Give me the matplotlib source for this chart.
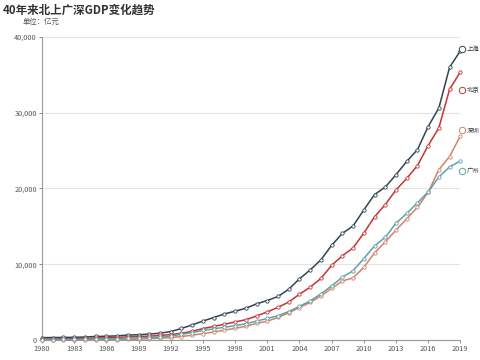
import matplotlib
matplotlib.use("Agg")
import matplotlib.pyplot as plt
from matplotlib.ticker import FuncFormatter

plt.rcParams['font.family'] = ['Noto Sans CJK SC', 'DejaVu Sans']

years = list(range(1980, 2020))

# GDP, 亿元
shanghai = [311.9, 324.8, 337.1, 351.8, 390.9, 466.8, 490.8, 545.5, 648.3, 696.5,
            781.7, 893.8, 1114.3, 1519.2, 1990.9, 2499.4, 2957.6, 3438.8, 3801.1, 4188.7,
            4771.2, 5210.1, 5741.0, 6694.2, 8072.8, 9247.7, 10572.2, 12494.0, 14069.9, 15046.5,
            17166.0, 19195.7, 20181.7, 21818.2, 23567.7, 25123.5, 28178.7, 30633.0, 36011.8, 38155.3]
beijing = [139.1, 139.2, 154.9, 183.1, 216.6, 257.1, 284.9, 326.8, 410.2, 456.0,
           500.8, 598.9, 709.1, 886.2, 1145.3, 1507.7, 1789.2, 2075.6, 2376.0, 2677.6,
           3161.7, 3708.0, 4315.0, 5007.2, 6033.2, 6969.5, 8117.8, 9846.8, 11115.0, 12153.0,
           14113.6, 16251.9, 17879.4, 19800.8, 21330.8, 23014.6, 25669.1, 28014.9, 33106.0, 35371.3]
shenzhen = [2.7, 5.0, 8.3, 13.1, 23.4, 39.0, 41.7, 55.9, 86.9, 115.7,
            171.7, 236.7, 317.3, 453.1, 634.7, 842.5, 1048.4, 1297.4, 1534.7, 1804.0,
            2187.5, 2482.5, 2969.5, 3585.7, 4282.1, 4950.9, 5813.6, 6801.6, 7786.8, 8201.3,
            9581.5, 11505.5, 12950.1, 14500.2, 16001.8, 17502.9, 19492.6, 22490.1, 24222.0, 26927.1]
guangzhou = [57.6, 62.0, 70.9, 79.9, 99.4, 124.4, 139.4, 173.2, 240.1, 287.9,
             319.6, 386.7, 510.7, 744.3, 985.3, 1259.2, 1468.1, 1678.1, 1893.0, 2139.2,
             2492.7, 2841.7, 3203.9, 3758.6, 4450.6, 5154.2, 6081.9, 7140.3, 8287.4, 9138.2,
             10748.3, 12423.4, 13551.2, 15420.1, 16706.9, 18100.4, 19547.4, 21503.2, 22859.4, 23628.6]

names = ['上海', '北京', '深圳', '广州']
series = [shanghai, beijing, shenzhen, guangzhou]
colors = ['#2f4554', '#c23531', '#d48265', '#61a0a8']

fig = plt.figure(figsize=(4.8, 3.6), dpi=100)
ax = fig.add_axes([0.0875, 0.0556, 0.8715, 0.8416])

handles = []
for name, vals, c in zip(names, series, colors):
    ax.plot(years, vals, color=c, lw=1.1, marker='o', ms=2.4,
            mfc='white', mec=c, mew=0.6, clip_on=False, zorder=3)
    h, = ax.plot([], [], ls='none', marker='o', ms=4.6, mfc='white', mec=c, mew=0.7, label=name)
    handles.append(h)

ax.set_xlim(1980, 2019)
ax.set_ylim(0, 40000)
ax.set_xticks(list(range(1980, 2020, 3)))
ax.set_yticks([0, 10000, 20000, 30000, 40000])
ax.yaxis.set_major_formatter(FuncFormatter(lambda v, p: '{:,.0f}'.format(v)))
ax.tick_params(axis='both', labelsize=5.3, colors='#888888', labelcolor='#555555',
               length=2.2, width=0.7, pad=1.5)
for s in ['top', 'right']:
    ax.spines[s].set_visible(False)
for s in ['left', 'bottom']:
    ax.spines[s].set_color('#999999')
    ax.spines[s].set_linewidth(0.8)
ax.grid(axis='y', color='#e4e4e4', lw=0.8)
ax.set_axisbelow(True)

fig.legend(handles=handles, loc='upper left', bbox_to_anchor=(0.956, 0.874),
           frameon=False, fontsize=4.6, handlelength=1.0, handletextpad=0.2,
           labelspacing=5.1, borderpad=0, borderaxespad=0, labelcolor='#333333')

fig.text(0.006, 0.99, '40年来北上广深GDP变化趋势', fontsize=8.3, fontweight='bold',
         color='#333333', va='top', ha='left')
fig.text(0.046, 0.94, '单位：亿元', fontsize=5.3, color='#555555', va='center', ha='left')

fig.savefig('out.png', dpi=100)
